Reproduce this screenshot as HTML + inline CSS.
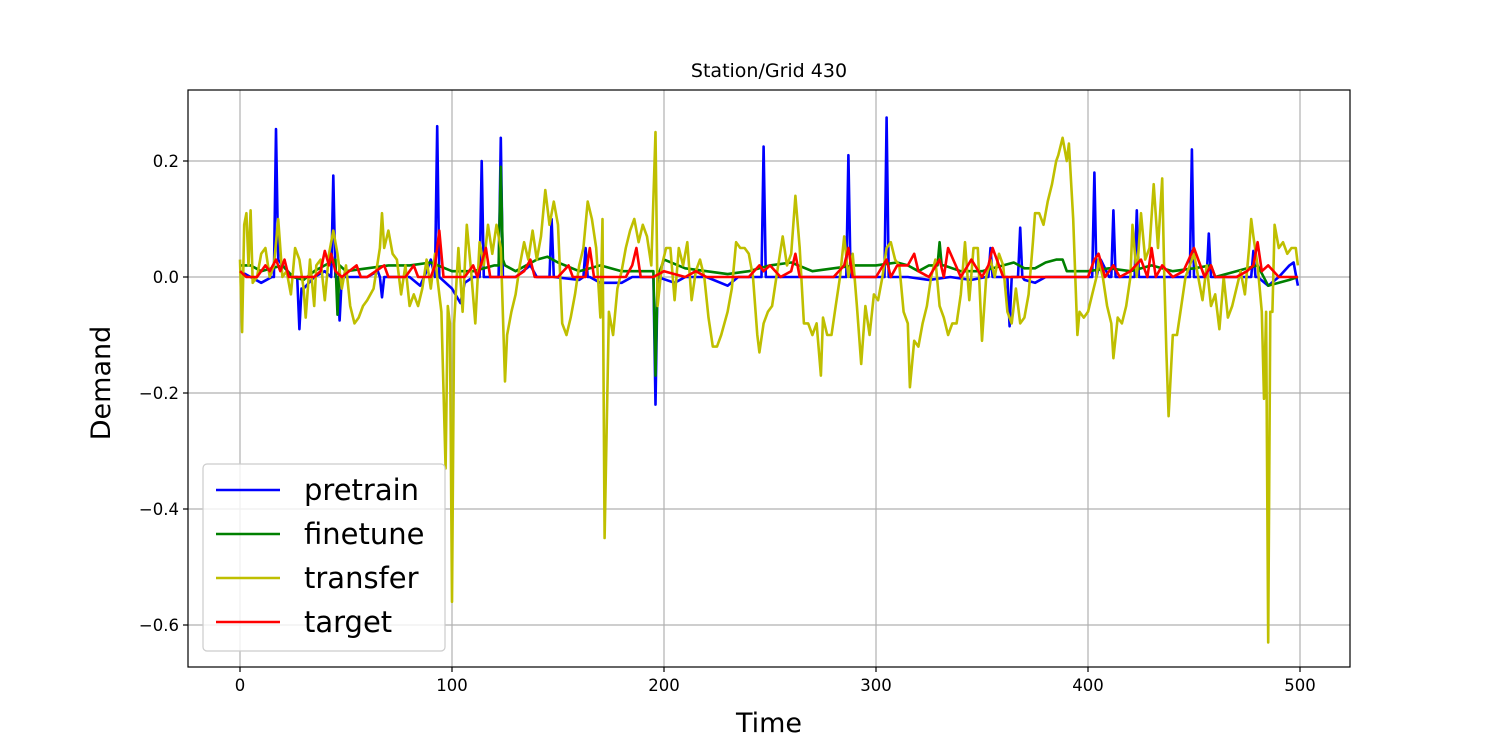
<!DOCTYPE html>
<html><head><meta charset="utf-8"><style>
body{margin:0;background:#fff;width:1500px;height:750px;overflow:hidden;font-family:"Liberation Sans","DejaVu Sans",sans-serif}
svg text{font-family:"DejaVu Sans","Liberation Sans",sans-serif}
</style></head><body>
<svg id="chart" width="1500" height="750" xmlns="http://www.w3.org/2000/svg">
<rect width="1500" height="750" fill="#fff"/>
<g id="grid"></g>
<g id="series"></g>
<rect x="188" y="90" width="1162" height="577" fill="none" stroke="#000" stroke-width="1.2"/>
<g id="ticks"></g>
<text x="769" y="77" font-size="19" text-anchor="middle">Station/Grid 430</text>
<text x="769" y="732" font-size="27" text-anchor="middle">Time</text>
<text x="110" y="383" font-size="27" text-anchor="middle" transform="rotate(-90 110 383)">Demand</text>
<g id="legend"></g>
</svg>
<script>
const xTicks=[0,100,200,300,400,500];
const yTicks=[0.2,0,-0.2,-0.4,-0.6];
const yTickLabels=["0.2","0.0","\u22120.2","\u22120.4","\u22120.6"];
const seriesNames=["pretrain","finetune","transfer","target"];
const seriesColors=["#0000ff","#008000","#bfbf00","#ff0000"];
const transferT=[0,1,2,3,4,5,6,8,10,12,14,16,18,20,22,24,26,28,30,31,33,35,36,38,40,42,44,46,48,50,52,54,56,58,60,63,66,67,68,70,72,74,76,78,80,82,84,86,88,90,92,93,95,97,98,99,100,101,103,105,107,109,111,113,115,117,119,121,123,125,126,128,130,132,134,136,138,140,142,144,146,148,150,152,154,156,158,160,162,164,166,168,170,171,172,174,176,178,180,182,184,186,188,190,192,194,196,197,199,201,203,205,207,209,211,213,215,217,219,221,223,225,227,230,232,234,236,238,240,242,244,245,247,249,251,253,256,258,260,262,264,266,268,270,272,274,275,277,279,281,283,285,287,289,291,293,295,297,299,301,303,305,307,309,311,313,315,316,318,320,322,324,326,328,330,332,334,336,338,340,342,344,346,348,350,352,354,356,358,360,362,364,366,368,370,372,374,375,377,379,381,383,385,386,388,390,391,393,395,396,398,400,402,404,405,407,409,411,412,414,416,418,420,421,423,425,427,429,431,433,435,436,437,438,440,442,444,446,448,450,452,454,456,458,460,462,464,466,468,470,472,474,476,477,478,480,482,483,484,485,486,487,488,490,492,494,496,498,499];
const transferV=[0.03,-0.095,0.09,0.11,0.02,0.115,-0.01,0,0.04,0.05,0,0.02,0.1,0,0.01,-0.03,0.05,0.03,-0.02,-0.07,0.03,-0.05,0.02,0.03,-0.04,0.04,0.08,0.04,-0.02,0.02,-0.05,-0.08,-0.07,-0.05,-0.04,-0.02,0.05,0.11,0.05,0.08,0.04,0.03,-0.03,0.02,-0.05,-0.03,-0.05,-0.02,0.03,-0.02,0.04,0,-0.06,-0.33,-0.05,-0.08,-0.56,-0.08,0.05,-0.06,0.09,0.01,-0.08,0.06,0.02,0.09,0.04,0.09,0.05,-0.18,-0.1,-0.06,-0.03,0.02,0.06,0.03,0.08,0.03,0.07,0.15,0.09,0.13,0.09,-0.08,-0.1,-0.07,-0.03,0.02,0.05,0.13,0.1,0.05,-0.07,0.1,-0.45,-0.06,-0.1,-0.02,0.01,0.05,0.08,0.1,0.06,0.09,0.07,0.02,0.25,-0.05,0.02,0.05,0.05,-0.04,0.05,0.02,0.06,-0.04,0.01,0.03,0,-0.07,-0.12,-0.12,-0.1,-0.06,-0.02,0.06,0.05,0.05,0.04,0,-0.1,-0.13,-0.08,-0.06,-0.05,0,0.07,0.02,0.04,0.14,0.05,-0.08,-0.08,-0.1,-0.08,-0.17,-0.07,-0.1,-0.1,-0.05,0,0.07,0,0.04,-0.05,-0.15,-0.05,-0.1,-0.03,-0.04,0,0.05,0.06,0.03,0.02,-0.06,-0.08,-0.19,-0.11,-0.12,-0.08,-0.05,0,0.03,-0.05,-0.07,-0.1,-0.08,-0.08,-0.03,0.06,-0.04,0.05,0.05,-0.11,0,0.03,0,0.04,0.02,-0.06,-0.08,-0.02,-0.08,-0.07,-0.03,0.06,0.11,0.11,0.09,0.13,0.16,0.2,0.21,0.24,0.2,0.23,0.1,-0.1,-0.06,-0.07,-0.06,-0.03,0,0.03,0,-0.05,-0.08,-0.14,-0.07,-0.08,-0.05,0,0.09,0,0.11,0.03,0.05,0.16,0.05,0.17,0,-0.13,-0.24,-0.1,-0.1,-0.05,0,0.02,0.04,0,-0.04,0.02,-0.05,-0.03,-0.09,0,-0.07,-0.05,-0.02,0.01,-0.03,0.05,0.1,0.07,0.02,-0.06,-0.21,-0.06,-0.63,-0.06,-0.06,0.09,0.05,0.06,0.04,0.05,0.05,0.02];
const pretrainT=[0,5,10,15,16,17,18,20,25,27,28,29,30,35,40,43,44,45,46,47,48,55,60,65,66,67,68,70,80,85,88,90,92,93,94,100,104,106,110,113,114,115,120,122,123,124,130,137,140,146,147,148,160,162,163,164,165,170,180,185,190,195,196,197,205,210,220,230,235,240,246,247,248,255,260,270,280,286,287,288,295,300,304,305,306,315,325,335,345,352,353,354,355,356,362,363,364,365,367,368,369,370,375,380,390,400,402,403,404,406,410,411,412,413,420,422,423,424,430,440,448,449,450,455,456,457,458,465,470,475,477,478,479,480,485,490,495,497,499];
const pretrainV=[0.01,0,-0.01,0,0,0.255,0.03,0.02,0,0,-0.09,-0.02,-0.02,0,0.01,0,0.175,0,0,-0.075,0,0,0,0.01,0,-0.035,0,0,0,-0.015,0.01,0.03,0,0.26,0,-0.02,-0.045,-0.01,0,0,0.2,0,0,0,0.24,0,0,0.02,0,0,0.1,0,-0.005,0,0.05,0,0,-0.01,-0.01,0,0,0,-0.22,0,-0.01,0,0,-0.015,0,0,0,0.225,0,0,0,0,0,0,0.21,0,0,0,0,0.275,0,0,-0.005,0,-0.005,0,0,0.05,0,0,0,-0.085,0,0,0,0.085,0,-0.005,-0.01,0,0,0,0,0.18,0,0.03,0,0,0.115,0,0,0,0.115,0,0,0,0,0.22,0,0,0,0.075,0,0,0,0,0,0.045,0,0,-0.015,0,0.02,0.025,-0.015];
const finetuneT=[0,5,10,15,20,25,30,35,40,45,46,47,50,60,70,80,90,100,110,120,122,123,124,125,130,140,145,150,160,170,180,190,195,196,197,200,210,220,230,240,250,260,270,280,290,300,310,315,320,325,329,330,331,332,340,350,360,365,370,375,380,385,388,390,395,400,410,420,430,440,450,458,460,470,480,485,490,495,499];
const finetuneV=[0.02,0.02,0.01,0.015,0.02,0,-0.005,0.01,0.02,0.03,-0.065,0.02,0.01,0.015,0.02,0.02,0.025,0.01,0.01,0.02,0.02,0.19,0.03,0.02,0.01,0.03,0.035,0.025,0.01,0.02,0.01,0.01,0.01,-0.17,0,0.03,0.015,0.01,0.005,0.01,0.02,0.025,0.01,0.015,0.02,0.02,0.025,0.02,0.01,0.02,0.02,0.06,0.02,0.02,0.01,0.01,0.02,0.025,0.015,0.015,0.025,0.03,0.03,0.01,0.01,0.01,0.015,0.01,0.02,0.01,0.015,0.02,0,0.01,0.02,-0.015,-0.01,-0.005,0];
const targetT=[0,3,8,12,14,17,19,21,23,30,35,38,40,42,43,45,48,55,57,60,68,70,78,82,84,90,92,94,96,100,106,110,112,116,118,125,130,134,137,139,145,150,155,157,163,165,167,175,182,185,187,189,195,200,210,215,220,230,240,245,247,250,255,260,262,264,270,280,285,287,289,295,300,305,307,310,315,318,320,325,330,332,334,340,345,350,353,355,360,365,370,375,380,390,400,403,405,408,412,415,420,425,428,430,432,435,440,445,450,455,458,460,465,470,475,478,480,482,485,490,495,499];
const targetV=[0.01,0,0,0.02,0.01,0.03,0.01,0.03,0,0,0,0.01,0.045,0.02,0.04,0.01,0,0.02,0,0,0.02,0,0,0.02,0,0,0.02,0.08,0,0,0,0.02,0,0.05,0,0,0,0.01,0.03,0,0,0,0.02,0,0,0.05,0,0,0,0.02,0.05,0,0,0.01,0,0.01,0,0,0,0.02,0.01,0.02,0,0.01,0.04,0,0,0,0.02,0.05,0,0,0,0.03,0,0.02,0.02,0.04,0.01,0,0.03,0,0.05,0,0.03,0,0.02,0.05,0,0,0,0,0,0,0,0.03,0.04,0,0.02,0,0.01,0.03,0,0.05,0,0.02,0,0.01,0.05,0,0.02,0,0,0,0.01,0.02,0.06,0.01,0.02,0,0,0];

const NS="http://www.w3.org/2000/svg";
const X0=188,X1=1350,Y0=90,Y1=667;
const xs=t=>240+(t-0)*(1300-240)/500;
const ys=v=>277-v*580;
function mk(tag,attrs,parent){const e=document.createElementNS(NS,tag);for(const k in attrs)e.setAttribute(k,attrs[k]);parent.appendChild(e);return e;}
const grid=document.getElementById('grid'),ticks=document.getElementById('ticks');
xTicks.forEach((t,i)=>{
  const g=mk('line',{x1:xs(t),x2:xs(t),y1:Y0,y2:Y1,stroke:'#b0b0b0','stroke-width':1.2},grid);
  
  
  const tk=mk('line',{x1:xs(t),x2:xs(t),y1:Y1,y2:Y1+5,stroke:'#000','stroke-width':1.2},ticks);
  
  
  const lb=mk('text',{x:xs(t),y:Y1+24,'font-size':16.5,'text-anchor':'middle'},ticks);
  lb.textContent=String(t);
  
  
});
yTicks.forEach((v,i)=>{
  const g=mk('line',{x1:X0,x2:X1,y1:ys(v),y2:ys(v),stroke:'#b0b0b0','stroke-width':1.2},grid);
  
  
  const tk=mk('line',{x1:X0-5,x2:X0,y1:ys(v),y2:ys(v),stroke:'#000','stroke-width':1.2},ticks);
  
  
  const lb=mk('text',{x:X0-9,y:ys(v)+6,'font-size':16.5,'text-anchor':'end'},ticks);
  lb.textContent=yTickLabels[i];
  
  
});
const data=[[pretrainT,pretrainV],[finetuneT,finetuneV],[transferT,transferV],[targetT,targetV]];
const sl=document.getElementById('series');
data.forEach((d,i)=>{
  const pts=d[0].map((t,j)=>xs(t).toFixed(1)+','+ys(d[1][j]).toFixed(1)).join(' ');
  const p=mk('polyline',{points:pts,fill:'none',stroke:seriesColors[i],'stroke-width':2.6,'stroke-linejoin':'round'},sl);
  
  
});
const lg=document.getElementById('legend');
const box=mk('rect',{x:203,y:464,width:242,height:187,rx:4,fill:'#fff','fill-opacity':0.8,stroke:'#ccc','stroke-width':1.2},lg);


seriesNames.forEach((n,i)=>{
  const y=490+i*44;
  const l=mk('line',{x1:216,x2:280,y1:y,y2:y,stroke:seriesColors[i],'stroke-width':2.6},lg);
  
  
  const t=mk('text',{x:304,y:y+10,'font-size':29},lg);
  t.textContent=n;
  
  
});
</script>
</body></html>
